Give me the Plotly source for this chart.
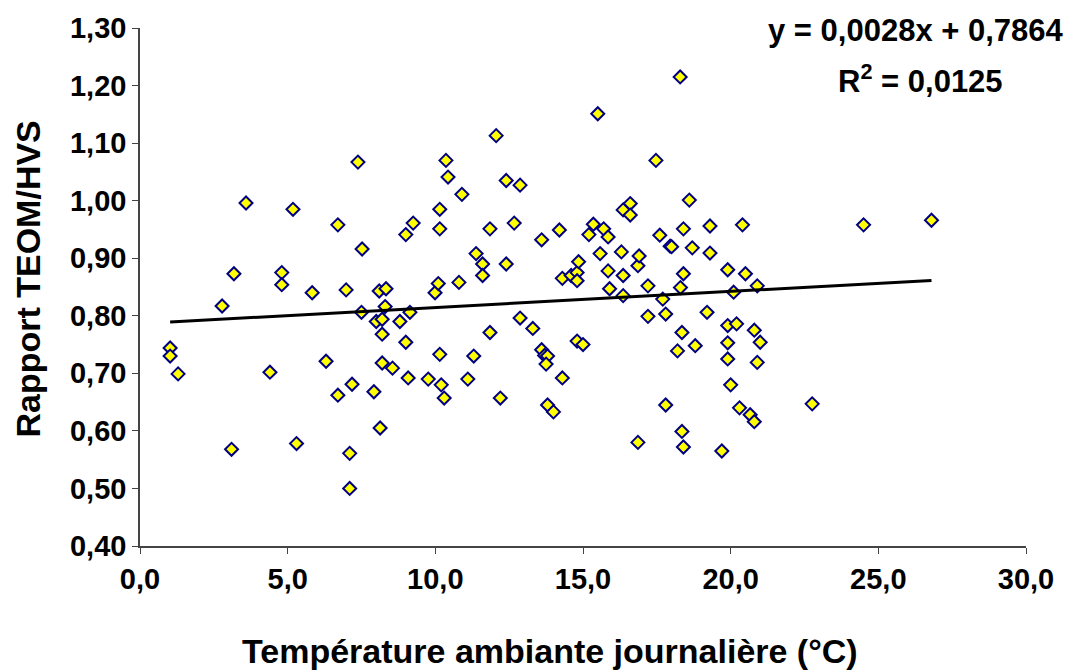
import plotly.graph_objects as go

temperature = [1.02, 1.02, 1.29, 2.78, 3.10, 3.18, 3.59, 4.40, 4.80, 4.80, 5.18, 5.30, 5.83, 6.30, 6.70, 6.70,
               6.98, 7.10, 7.10, 7.18, 7.38, 7.50, 7.52, 7.92, 8.00, 8.10, 8.13, 8.20, 8.20, 8.20, 8.30, 8.33,
               8.55, 8.80, 9.00, 9.00, 9.08, 9.14, 9.25, 9.76, 9.99, 10.10, 10.15, 10.15, 10.15, 10.20, 10.30,
               10.36, 10.43, 10.80, 10.90, 11.10, 11.30, 11.38, 11.60, 11.60, 11.85, 11.85, 12.06, 12.20, 12.40,
               12.40, 12.67, 12.87, 12.87, 13.30, 13.60, 13.60, 13.70, 13.80, 13.75, 13.80, 14.00, 14.20, 14.30,
               14.30, 14.60, 14.80, 14.80, 14.85, 14.80, 15.00, 15.20, 15.35, 15.50, 15.58, 15.70, 15.85, 15.85,
               15.90, 16.30, 16.36, 16.36, 16.36, 16.60, 16.60, 16.86, 16.86, 16.90, 17.20, 17.20, 17.47, 17.60,
               17.70, 17.80, 17.80, 17.95, 18.00, 18.20, 18.29, 18.30, 18.35, 18.35, 18.40, 18.40, 18.40, 18.60,
               18.70, 18.80, 19.20, 19.30, 19.30, 19.70, 19.90, 19.90, 19.90, 19.90, 20.00, 20.10, 20.20, 20.30,
               20.40, 20.50, 20.66, 20.80, 20.80, 20.90, 20.90, 21.00, 22.76, 24.50, 26.80]
ratio = [0.744, 0.730, 0.699, 0.817, 0.568, 0.873, 0.996, 0.702, 0.875, 0.854, 0.985, 0.578, 0.840, 0.721, 0.958, 0.662,
         0.845, 0.561, 0.500, 0.681, 1.067, 0.806, 0.916, 0.668, 0.790, 0.843, 0.605, 0.794, 0.768, 0.718, 0.816, 0.847,
         0.709, 0.790, 0.941, 0.754, 0.692, 0.806, 0.961, 0.690, 0.840, 0.856, 0.985, 0.951, 0.733, 0.680, 0.657,
         1.070, 1.041, 0.858, 1.011, 0.690, 0.730, 0.908, 0.890, 0.870, 0.951, 0.771, 1.113, 0.657, 1.035,
         0.890, 0.961, 1.027, 0.796, 0.778, 0.932, 0.741, 0.731, 0.730, 0.716, 0.645, 0.633, 0.949, 0.865,
         0.692, 0.870, 0.875, 0.861, 0.894, 0.756, 0.750, 0.941, 0.959, 1.151, 0.908, 0.951, 0.937, 0.878,
         0.847, 0.911, 0.984, 0.870, 0.835, 0.995, 0.975, 0.887, 0.580, 0.904, 0.852, 0.799, 1.070, 0.940,
         0.829, 0.803, 0.645, 0.921, 0.920, 0.739, 1.215, 0.849, 0.771, 0.599, 0.951, 0.873, 0.572, 1.001,
         0.918, 0.748, 0.806, 0.956, 0.909, 0.565, 0.880, 0.783, 0.753, 0.725, 0.680, 0.841, 0.786, 0.640,
         0.958, 0.873, 0.628, 0.775, 0.616, 0.852, 0.719, 0.754, 0.647, 0.958, 0.966]

trend_slope = 0.0028
trend_intercept = 0.7864
r_squared = "0,0125"

x_tick_vals = [0, 5, 10, 15, 20, 25, 30]
x_tick_text = ["0,0", "5,0", "10,0", "15,0", "20,0", "25,0", "30,0"]
y_tick_vals = [0.4, 0.5, 0.6, 0.7, 0.8, 0.9, 1.0, 1.1, 1.2, 1.3]
y_tick_text = ["0,40", "0,50", "0,60", "0,70", "0,80", "0,90", "1,00", "1,10", "1,20", "1,30"]

x_min, x_max = min(temperature), max(temperature)
trend_x = [x_min, x_max]
trend_y = [trend_slope * v + trend_intercept for v in trend_x]

FONT = "Liberation Sans, Arial, sans-serif"
L, R, T, B = 140, 50, 25, 124
W, H = 1076, 670
PW, PH = W - L - R, H - T - B


def px_x(p):
    return (p - L) / PW


def px_y(p):
    return (H - B - p) / PH


fig = go.Figure()
fig.add_trace(go.Scatter(
    x=temperature, y=ratio, mode="markers",
    marker=dict(symbol="diamond", size=10, color="#FFFF00", line=dict(color="#000080", width=2)),
    showlegend=False, hoverinfo="x+y"))
fig.add_trace(go.Scatter(
    x=trend_x, y=trend_y, mode="lines",
    line=dict(color="black", width=3), showlegend=False))

fig.update_layout(
    width=W, height=H,
    margin=dict(l=L, r=R, t=T, b=B),
    paper_bgcolor="white", plot_bgcolor="white",
    font=dict(family=FONT, color="black"),
    xaxis=dict(range=[0, 30], tickvals=x_tick_vals, ticktext=x_tick_text,
               showgrid=False, zeroline=False, showline=True, linecolor="#444", linewidth=1.5,
               ticks="outside", ticklen=6, tickcolor="#444",
               tickfont=dict(size=29, weight="bold", family=FONT)),
    yaxis=dict(range=[0.4, 1.3], tickvals=y_tick_vals, ticktext=y_tick_text,
               showgrid=False, zeroline=False, showline=True, linecolor="#444", linewidth=1.5,
               ticks="outside", ticklen=6, tickcolor="#444",
               tickfont=dict(size=29, weight="bold", family=FONT)),
)

title_font = dict(size=34, weight="bold", family=FONT, color="black")
eq_font = dict(size=31, weight="bold", family=FONT, color="black")
fig.add_annotation(xref="paper", yref="paper", x=px_x(550), y=px_y(652),
                   xanchor="center", yanchor="middle", showarrow=False,
                   text="Température ambiante journalière (°C)", font=title_font)
fig.add_annotation(xref="paper", yref="paper", x=px_x(28), y=px_y(278),
                   xanchor="center", yanchor="middle", showarrow=False, textangle=-90,
                   text="Rapport TEOM/HVS", font=title_font)

slope_txt = str(trend_slope).replace('.', ',')
icpt_txt = str(trend_intercept).replace('.', ',')
fig.add_annotation(xref="paper", yref="paper", x=px_x(916), y=px_y(28),
                   xanchor="center", yanchor="middle", showarrow=False,
                   text=f"y = {slope_txt}x + {icpt_txt}", font=eq_font)
fig.add_annotation(xref="paper", yref="paper", x=px_x(920), y=px_y(76),
                   xanchor="center", yanchor="middle", showarrow=False,
                   text=f"R<sup>2</sup> = {r_squared}", font=eq_font)

fig.write_html("out.html")
